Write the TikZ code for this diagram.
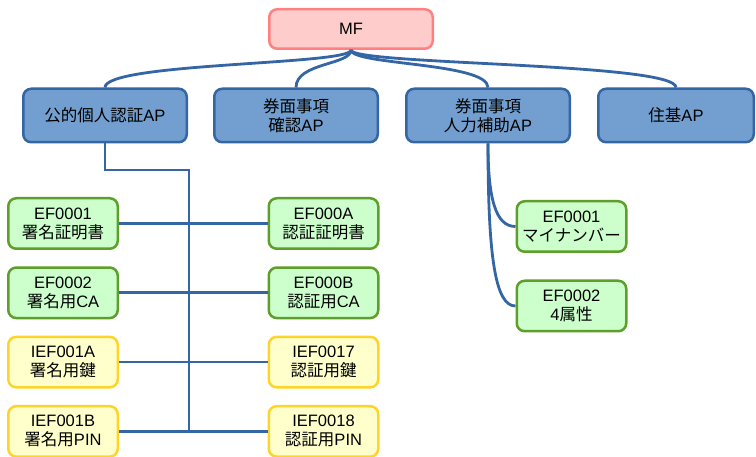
\documentclass[tikz,border=0pt]{standalone}
\usepackage{fontspec}
\setmainfont{Liberation Sans}
\newfontfamily\jp{Noto Sans CJK JP}
\usetikzlibrary{positioning}

\definecolor{mfred}{HTML}{FFCCCC}
\definecolor{mfline}{HTML}{FF8080}
\definecolor{apblue}{HTML}{729FCF}
\definecolor{linkblue}{HTML}{3465A4}
\definecolor{efgreen}{HTML}{CCFFCC}
\definecolor{efline}{HTML}{5E9E2A}
\definecolor{iefyellow}{HTML}{FFFFCC}
\definecolor{iefline}{HTML}{FFD42A}

\begin{document}
\begin{tikzpicture}[x=1pt, y=1pt,
  font=\fontsize{16.5}{19}\selectfont,
  box/.style={draw, rectangle, rounded corners=8pt, line width=2.5pt, align=center, inner sep=0pt},
  mfbox/.style={box, fill=mfred, draw=mfline, minimum width=163.5pt, minimum height=39.5pt},
  apbox/.style={box, fill=apblue, draw=linkblue, minimum width=163.5pt, minimum height=53.5pt},
  efbox/.style={box, fill=efgreen, draw=efline, minimum width=109.5pt, minimum height=50.5pt},
  iefbox/.style={box, fill=iefyellow, draw=iefline, minimum width=109.5pt, minimum height=50.5pt},
  link/.style={draw=linkblue, line width=2.8pt}]
  \useasboundingbox (0,0) rectangle (756,-457);

  \node[mfbox] (mf) at (351,-29) {MF};

  \node[apbox] (kojin) at (105,-115.5) {{\jp 公的個人認証}AP};
  \node[apbox, right=25pt of kojin] (kakunin) {{\jp 券面事項}\\{\jp 確認}AP};
  \node[apbox, right=26pt of kakunin] (hojo) {{\jp 券面事項}\\{\jp 人力補助}AP};
  \node[apbox, right=26pt of hojo, minimum width=155.5pt] (juki) {{\jp 住基}AP};

  \node[efbox] (sigcert) at (63,-223.5) {EF0001\\{\jp 署名証明書}};
  \node[efbox, below=16.3pt of sigcert] (sigca) {EF0002\\{\jp 署名用}CA};
  \node[iefbox, below=16.3pt of sigca] (sigkey) {IEF001A\\{\jp 署名用鍵}};
  \node[iefbox, below=16.3pt of sigkey] (sigpin) {IEF001B\\{\jp 署名用}PIN};

  \node[efbox] (authcert) at (323.5,-223.5) {EF000A\\{\jp 認証証明書}};
  \node[efbox, below=16.3pt of authcert] (authca) {EF000B\\{\jp 認証用}CA};
  \node[iefbox, below=16.3pt of authca] (authkey) {IEF0017\\{\jp 認証用鍵}};
  \node[iefbox, below=16.3pt of authkey] (authpin) {IEF0018\\{\jp 認証用}PIN};

  \node[efbox] (mynum) at (571.5,-226.5) {EF0001\\{\jp マイナンバー}};
  \node[efbox, below=26.5pt of mynum] (attr) {EF0002\\4{\jp 属性}};

  % MF to the APs
  \foreach \ap in {kojin, kakunin, hojo, juki}
    \draw[link] (mf.south) .. controls +(0,-15) and +(0,25) .. (\ap.north);

  % trunk of the JPKI AP
  \coordinate (bend) at (189,-170);
  \draw[link] (kojin.south) |- (bend) -- (bend |- sigpin.east);
  \draw[link] (sigcert.east) -- (authcert.west);
  \draw[link] (sigca.east) -- (authca.west);
  \draw[link] (sigkey.east) -- (authkey.west);
  \draw[link] (sigpin.east) -- (authpin.west);

  % input support AP
  \draw[link] (hojo.south) .. controls +(0,-55) and +(-20,0) .. (mynum.west);
  \draw[link] (hojo.south) .. controls +(0,-115) and +(-20,0) .. (attr.west);
\end{tikzpicture}
\end{document}
